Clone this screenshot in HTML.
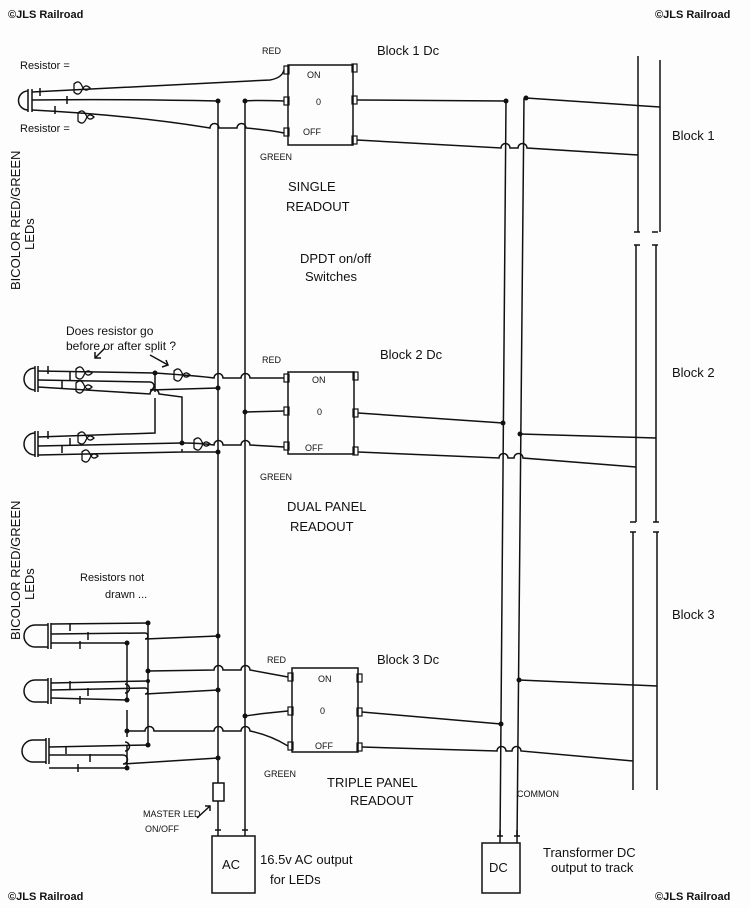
<!DOCTYPE html>
<html><head><meta charset="utf-8"><style>
html,body{margin:0;padding:0;background:#fff;}
svg{display:block;}
text{font-family:"Liberation Sans",sans-serif;fill:#111;}
.h{font-size:13px;}
.s{font-size:9px;}
.c{font-size:11px;font-weight:bold;}
</style></head><body>
<svg width="750" height="908" viewBox="0 0 750 908" xmlns="http://www.w3.org/2000/svg">
<rect width="750" height="908" fill="#fdfdfd"/>
<g stroke="#111" stroke-width="1.5" fill="none">
<path d="M218 101 V830"/><path d="M245 101 V830"/>
<path d="M506 101 L500 843"/><path d="M524 98 L517 843"/>
<path d="M638 56 V232 M636 245 V522 M633 532 V790"/>
<path d="M660 60 V232 M656 245 V522 M657 532 V790"/>
<path d="M634 232 h6 M634 245 h6 M652 232 h6 M652 245 h6 M630 522 h6 M630 532 h6 M653 522 h6 M653 532 h6"/>
<rect x="288" y="65" width="65" height="80"/>
<rect x="288" y="372" width="66" height="82"/>
<rect x="292" y="668" width="66" height="84"/>
<g stroke-width="1.2">
<rect x="284" y="66" width="5" height="8"/><rect x="284" y="97" width="5" height="8"/><rect x="284" y="128" width="5" height="8"/>
<rect x="352" y="64" width="5" height="8"/><rect x="352" y="96" width="5" height="8"/><rect x="352" y="136" width="5" height="8"/>
<rect x="284" y="374" width="5" height="8"/><rect x="284" y="407" width="5" height="8"/><rect x="284" y="442" width="5" height="8"/>
<rect x="353" y="372" width="5" height="8"/><rect x="353" y="409" width="5" height="8"/><rect x="353" y="447" width="5" height="8"/>
<rect x="288" y="673" width="5" height="8"/><rect x="288" y="707" width="5" height="8"/><rect x="288" y="742" width="5" height="8"/>
<rect x="357" y="674" width="5" height="8"/><rect x="357" y="708" width="5" height="8"/><rect x="357" y="743" width="5" height="8"/>
</g>
<path d="M357 100 L505 101"/><path d="M526 98 L660 107"/>
<path d="M357 140 L501 148 a4 4 0 0 1 9 0 h8 a4 4 0 0 1 9 0 L638 155"/>
<path d="M358 413 L503 423"/><path d="M520 434 L656 438"/>
<path d="M358 452 L499 458 a4 4 0 0 1 9 0 h6 a4 4 0 0 1 9 0 L636 467"/>
<path d="M362 712 L501 724"/><path d="M519 680 L657 686"/>
<path d="M362 747 L497 751 a4 4 0 0 1 9 0 h6 a4 4 0 0 1 9 0 L633 761"/>
<path d="M28 91 a9 9 0 0 0 0 19"/><path d="M28 89 V112 M32 89 V112"/>
<path d="M32 92 Q150 86 270 80 Q282 78 284 70"/>
<path d="M32 100 Q120 99 218 101"/><path d="M245 101 Q255 100 284 101"/>
<path d="M32 110 Q130 115 210 128 a4 4 0 0 1 9 0 h18 a4 4 0 0 1 9 0 Q270 130 284 133"/>
<path d="M40 88 v8 M67 96 v8 M55 106 v8"/>
<path d="M35 368 a10 10 0 0 0 0 22"/><path d="M35 366 V392 M38 366 V392"/>
<path d="M35 433 a10 10 0 0 0 0 22"/><path d="M35 431 V457 M38 431 V457"/>
<path d="M38 371 L155 373 Q200 376 214 378 a4 4 0 0 1 9 0 h18 a4 4 0 0 1 9 0 L284 378"/>
<path d="M38 380 L150 382 a4 4 0 0 1 0 8 L218 388"/>
<path d="M38 387 L150 394 a4 4 0 0 1 9 0 L182 397 V443"/>
<path d="M155 373 V392"/>
<path d="M38 437 L155 433 V398"/>
<path d="M38 446 L182 443 Q200 443 214 445 a4 4 0 0 1 9 0 h18 a4 4 0 0 1 9 0 L284 447"/>
<path d="M38 455 L182 452 V449 M182 452 L218 452"/>
<path d="M245 412 L284 411"/>
<path d="M48 366 v8 M70 372 v8 M62 380 v8 M48 431 v8 M70 438 v8 M62 445 v8"/>
<path d="M35 625 a10 10 0 0 0 0 22"/><path d="M48 623 V649 M51 623 V649"/>
<path d="M35 680 a10 10 0 0 0 0 22"/><path d="M48 678 V704 M51 678 V704"/>
<path d="M33 740 a10 10 0 0 0 0 22"/><path d="M46 738 V764 M49 738 V764"/>
<path d="M35 625 H48 M35 647 H48 M35 680 H48 M35 702 H48 M33 740 H46 M33 762 H46"/>
<path d="M51 624 L148 623"/><path d="M51 634 L145 633 a3 3 0 0 1 0 6 L218 636"/><path d="M51 643 L127 643"/>
<path d="M148 623 V745"/><path d="M127 643 V700 M127 710 V730 M127 731 V737 M127 745 V768"/>
<path d="M51 683 L148 681"/><path d="M51 690 L145 688 a3 3 0 0 1 0 6 L218 690"/><path d="M51 698 L127 700"/>
<path d="M125 684 a4 4 0 0 1 0 9"/>
<path d="M148 671 L214 670 a4 4 0 0 1 9 0 h18 a4 4 0 0 1 9 0 L288 677"/>
<path d="M127 731 L145 731 a4 4 0 0 1 9 0 L214 731 a4 4 0 0 1 9 0 h18 a4 4 0 0 1 9 0 Q270 735 288 746"/>
<path d="M49 747 L148 745"/><path d="M49 755 L123 755 a4 4 0 0 1 0 9 L218 758"/><path d="M49 768 L127 768"/>
<path d="M125 742 a4 4 0 0 1 0 9"/>
<path d="M245 716 Q265 713 288 711"/>
<path d="M70 623 v8 M88 632 v8 M80 641 v8 M70 681 v8 M88 688 v8 M80 696 v8 M66 746 v8 M90 754 v8 M78 764 v8"/>
<rect x="213" y="783" width="11" height="18" fill="#fff"/>
<path d="M218 830 v6 M245 830 v6 M215 830 h6 M242 830 h6"/>
<rect x="212" y="836" width="43" height="57"/>
<rect x="482" y="843" width="38" height="50"/>
<path d="M500 830 v6 M517 830 v6 M497 836 h6 M514 836 h6"/>
<path d="M197 818 L210 806 M205 806 h5 v5"/>
<path d="M105 348 L95 358 M95 352 v6 h6"/>
<path d="M150 355 L168 365 M162 367 l6 -2 l-2 -5"/>
</g>
<g stroke="#111" stroke-width="1.3" fill="none">
<path d="M74 84 q5 -5 8 2 q3 7 8 2 q-5 -5 -8 2 q-3 7 -8 2z"/>
<path d="M78 113 q5 -5 8 2 q3 7 8 2 q-5 -5 -8 2 q-3 7 -8 2z"/>
<path d="M76 369 q5 -5 8 2 q3 7 8 2 q-5 -5 -8 2 q-3 7 -8 2z"/>
<path d="M76 383 q5 -5 8 2 q3 7 8 2 q-5 -5 -8 2 q-3 7 -8 2z"/>
<path d="M78 434 q5 -5 8 2 q3 7 8 2 q-5 -5 -8 2 q-3 7 -8 2z"/>
<path d="M82 452 q5 -5 8 2 q3 7 8 2 q-5 -5 -8 2 q-3 7 -8 2z"/>
<path d="M174 371 q5 -5 8 2 q3 7 8 2 q-5 -5 -8 2 q-3 7 -8 2z"/>
<path d="M194 440 q5 -5 8 2 q3 7 8 2 q-5 -5 -8 2 q-3 7 -8 2z"/>
</g>
<g fill="#111">
<circle cx="218" cy="101" r="2.5"/><circle cx="245" cy="101" r="2.5"/>
<circle cx="506" cy="101" r="2.5"/><circle cx="526" cy="98" r="2.5"/>
<circle cx="155" cy="373" r="2.5"/><circle cx="218" cy="388" r="2.5"/><circle cx="182" cy="443" r="2.5"/><circle cx="218" cy="452" r="2.5"/><circle cx="245" cy="412" r="2.5"/>
<circle cx="503" cy="423" r="2.5"/><circle cx="520" cy="434" r="2.5"/>
<circle cx="148" cy="623" r="2.5"/><circle cx="127" cy="643" r="2.5"/><circle cx="218" cy="636" r="2.5"/>
<circle cx="148" cy="671" r="2.5"/><circle cx="148" cy="681" r="2"/><circle cx="127" cy="700" r="2.5"/><circle cx="218" cy="690" r="2.5"/>
<circle cx="127" cy="731" r="2.5"/><circle cx="148" cy="745" r="2.5"/><circle cx="127" cy="768" r="2.5"/><circle cx="218" cy="758" r="2.5"/>
<circle cx="245" cy="716" r="2.5"/><circle cx="501" cy="724" r="2.5"/><circle cx="519" cy="680" r="2.5"/>
</g>
<text class="c" x="8" y="18">©JLS Railroad</text>
<text class="c" x="655" y="18">©JLS Railroad</text>
<text class="c" x="8" y="900">©JLS Railroad</text>
<text class="c" x="655" y="900">©JLS Railroad</text>
<text style="font-size:11px" x="20" y="69">Resistor =</text>
<text style="font-size:11px" x="20" y="132">Resistor =</text>
<text class="s" x="262" y="54">RED</text><text class="s" x="260" y="160">GREEN</text>
<text class="s" x="262" y="363">RED</text><text class="s" x="260" y="480">GREEN</text>
<text class="s" x="267" y="663">RED</text><text class="s" x="264" y="777">GREEN</text>
<text class="s" x="307" y="78">ON</text><text class="s" x="316" y="105">0</text><text class="s" x="303" y="135">OFF</text>
<text class="s" x="312" y="383">ON</text><text class="s" x="317" y="415">0</text><text class="s" x="305" y="451">OFF</text>
<text class="s" x="318" y="682">ON</text><text class="s" x="320" y="714">0</text><text class="s" x="315" y="749">OFF</text>
<text class="h" x="377" y="55">Block 1 Dc</text>
<text class="h" x="380" y="359">Block 2 Dc</text>
<text class="h" x="377" y="664">Block 3 Dc</text>
<text class="h" x="672" y="140">Block 1</text>
<text class="h" x="672" y="377">Block 2</text>
<text class="h" x="672" y="619">Block 3</text>
<text class="h" x="288" y="191">SINGLE</text><text class="h" x="286" y="211">READOUT</text>
<text class="h" x="300" y="263">DPDT on/off</text><text class="h" x="305" y="281">Switches</text>
<text class="h" x="287" y="511">DUAL PANEL</text><text class="h" x="290" y="531">READOUT</text>
<text class="h" x="327" y="787">TRIPLE PANEL</text><text class="h" x="350" y="805">READOUT</text>
<text class="s" x="517" y="797">COMMON</text>
<text class="s" x="143" y="817">MASTER LED</text><text class="s" x="145" y="832">ON/OFF</text>
<text class="h" x="222" y="869">AC</text>
<text class="h" x="489" y="872">DC</text>
<text class="h" x="260" y="864">16.5v AC output</text><text class="h" x="270" y="884">for LEDs</text>
<text class="h" x="543" y="857">Transformer DC</text><text class="h" x="551" y="872">output to track</text>
<text style="font-size:12px" x="66" y="335">Does resistor go</text>
<text style="font-size:12px" x="66" y="350">before or after split ?</text>
<text style="font-size:11px" x="80" y="581">Resistors not</text>
<text style="font-size:11px" x="105" y="598">drawn ...</text>
<text class="h" transform="translate(20,290) rotate(-90)">BICOLOR RED/GREEN</text>
<text class="h" transform="translate(34,250) rotate(-90)">LEDs</text>
<text class="h" transform="translate(20,640) rotate(-90)">BICOLOR RED/GREEN</text>
<text class="h" transform="translate(34,600) rotate(-90)">LEDs</text>
</svg>
</body></html>
